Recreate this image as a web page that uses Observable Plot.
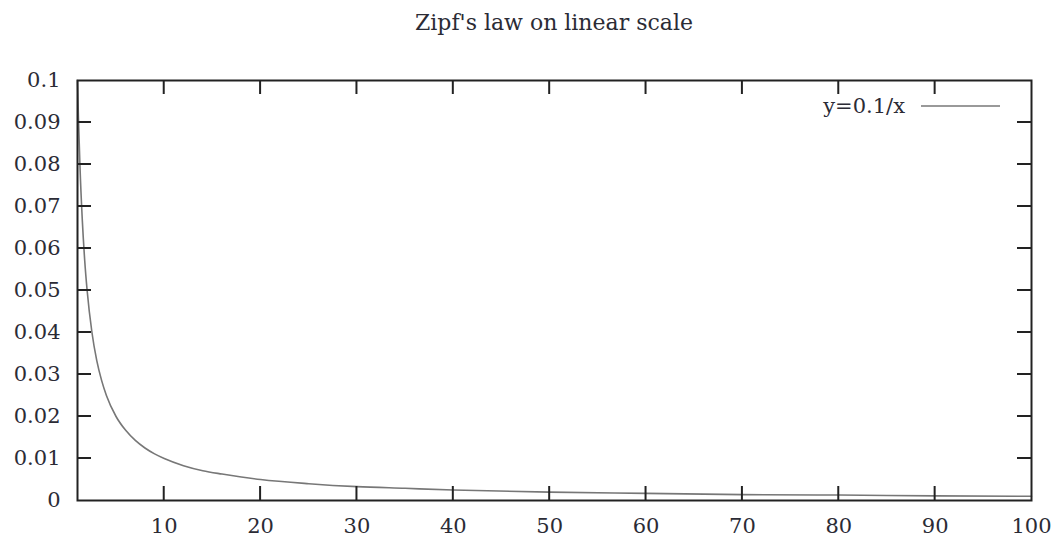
<!DOCTYPE html>
<html>
<head>
<meta charset="utf-8">
<script src="https://cdn.jsdelivr.net/npm/d3@7"></script>
<script src="https://cdn.jsdelivr.net/npm/@observablehq/plot@0.6"></script>
<style>
  html, body { margin: 0; padding: 0; background: #fff; }
  #chart { position: relative; width: 1057px; height: 543px; }
  #title { position: absolute; left: 0; top: 9px; width: 1108px; text-align: center;
           font-family: "DejaVu Serif", serif; font-size: 22px; color: #2b2b35; line-height: 28px; }
  #plot { position: absolute; left: 0; top: 0; }
</style>
</head>
<body>
<div id="chart">
  <div id="plot"></div>
  <div id="title">Zipf's law on linear scale</div>
</div>
<script>
// Values (curve y = 0.1/x)
const xValues = [1, 1.1, 1.25, 1.5, 1.75, 2, 2.5, 3, 3.5, 4, 5, 6, 7, 8, 9, 10, 12, 14, 16, 18, 20, 25, 30, 35, 40, 50, 60, 70, 80, 90, 100];
const yValues = [0.1, 0.0909, 0.08, 0.0667, 0.0571, 0.05, 0.04, 0.0333, 0.0286, 0.025, 0.02, 0.0167, 0.0143, 0.0125, 0.0111, 0.01, 0.0083, 0.0071, 0.0063, 0.0056, 0.005, 0.004, 0.0033, 0.0029, 0.0025, 0.002, 0.0017, 0.0014, 0.0013, 0.0011, 0.001];
const xTicks = [10, 20, 30, 40, 50, 60, 70, 80, 90, 100];
const yTicks = [0, 0.01, 0.02, 0.03, 0.04, 0.05, 0.06, 0.07, 0.08, 0.09, 0.1];
const yTickLabels = ["0", "0.01", "0.02", "0.03", "0.04", "0.05", "0.06", "0.07", "0.08", "0.09", "0.1"];
const seriesName = "y=0.1/x";

const data = xValues.map((x, i) => ({x, y: yValues[i]}));

const W = 1057, H = 543;
const mL = 77, mR = 26, mT = 80, mB = 43;
const tickLen = 14;
const axisColor = "#222";
const textColor = "#2b2b35";
const curveColor = "#777";
const labelSize = 21;

// inward tick marks on all four sides, drawn with the scales
function inwardTicks(index, scales, values, dim) {
  const g = d3.create("svg:g").attr("stroke", axisColor).attr("stroke-width", 2);
  const top = dim.marginTop, bottom = dim.height - dim.marginBottom;
  const left = dim.marginLeft, right = dim.width - dim.marginRight;
  for (const t of xTicks) {
    const px = scales.x(t);
    if (t === 100) continue;
    g.append("line").attr("x1", px).attr("x2", px).attr("y1", bottom).attr("y2", bottom - tickLen);
    g.append("line").attr("x1", px).attr("x2", px).attr("y1", top).attr("y2", top + tickLen);
  }
  for (const t of yTicks) {
    const py = scales.y(t);
    if (t === 0 || t === 0.1) continue;
    g.append("line").attr("x1", left).attr("x2", left + tickLen).attr("y1", py).attr("y2", py);
    g.append("line").attr("x1", right).attr("x2", right - tickLen).attr("y1", py).attr("y2", py);
  }
  return g.node();
}

function legend(index, scales, values, dim) {
  const g = d3.create("svg:g");
  const right = dim.width - dim.marginRight;
  const y = dim.marginTop + 26;
  g.append("text").attr("x", right - 126).attr("y", y).attr("dy", "0.35em")
    .attr("text-anchor", "end").attr("fill", textColor)
    .attr("font-family", "DejaVu Serif, serif").attr("font-size", labelSize)
    .text(seriesName);
  g.append("line").attr("x1", right - 110).attr("x2", right - 31).attr("y1", y).attr("y2", y)
    .attr("stroke", curveColor).attr("stroke-width", 1.5);
  return g.node();
}

const plot = Plot.plot({
  width: W, height: H,
  marginLeft: mL, marginRight: mR, marginTop: mT, marginBottom: mB,
  style: {fontFamily: "DejaVu Serif, serif", fontSize: labelSize + "px", color: textColor, background: "#fff"},
  x: {domain: [1, 100], label: null},
  y: {domain: [0, 0.1], label: null},
  marks: [
    Plot.line(data, {x: "x", y: "y", stroke: curveColor, strokeWidth: 1.6, curve: "monotone-x"}),
    inwardTicks,
    Plot.frame({stroke: axisColor, strokeWidth: 2}),
    Plot.axisX(xTicks, {anchor: "bottom", tickSize: 0, tickPadding: 18, fill: textColor, fontSize: labelSize}),
    Plot.axisY(yTicks, {anchor: "left", tickSize: 0, tickPadding: 17, fill: textColor, fontSize: labelSize,
      tickFormat: (d) => yTickLabels[yTicks.indexOf(d)]}),
    legend
  ]
});
document.getElementById("plot").appendChild(plot);
</script>
</body>
</html>
